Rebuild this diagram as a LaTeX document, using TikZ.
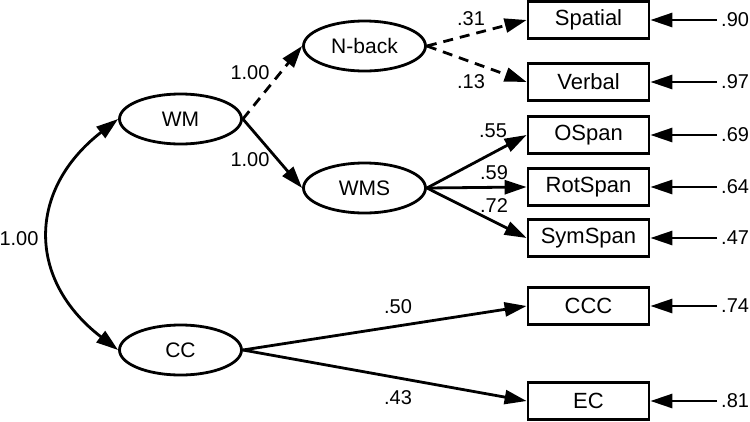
\documentclass[tikz,border=0pt]{standalone}
\usepackage{fontspec}
\setmainfont{Liberation Sans}
\usetikzlibrary{arrows.meta,shapes.geometric}
\begin{document}
\begin{tikzpicture}[x=1pt,y=-1pt,
  lat/.style={ellipse,draw,line width=2.8pt,minimum width=122pt,minimum height=50pt,inner sep=0pt,font=\fontsize{21}{25}\selectfont},
  obs/.style={rectangle,draw,line width=2.8pt,minimum width=121pt,minimum height=37pt,inner sep=0pt,font=\fontsize{22}{26}\selectfont},
  lbl/.style={inner sep=0pt,font=\fontsize{20}{24}\selectfont},
  path/.style={line width=2.8pt,-{Triangle[length=22pt,width=14pt]}},
  dpath/.style={path,dash pattern=on 10pt off 7pt},
  res/.style={line width=2.8pt,-{Triangle[length=22pt,width=14pt]}}]
\useasboundingbox (0,0) rectangle (750,421);
% latent
\node[lat] (WM) at (180.5,119) {WM};
\node[lat] (NB) at (364.5,46) {N-back};
\node[lat] (WMS) at (364.5,188) {WMS};
\node[lat] (CC) at (180.5,350) {CC};
% observed
\node[obs] (SP) at (588.5,20) {Spatial};
\node[obs] (VB) at (588.5,82) {Verbal};
\node[obs] (OS) at (588.5,135) {OSpan};
\node[obs] (RS) at (588.5,187) {RotSpan};
\node[obs] (SS) at (588.5,238) {SymSpan};
\node[obs] (CCC) at (588.5,306) {CCC};
\node[obs] (EC) at (588.5,401) {EC};
% residual start points
\foreach \n/\y in {SP/20,VB/82,OS/135,RS/187,SS/238,CCC/306,EC/401}{
  \coordinate (r\n) at (717,\y);
}
% paths
\draw[dpath] (WM.east) -- (NB.west);
\draw[path] (WM.east) -- (WMS.west);
\draw[dpath] (NB.east) -- (SP.west);
\draw[dpath] (NB.east) -- (VB.west);
\draw[path] (WMS.east) -- (OS.west);
\draw[path] (WMS.east) -- (RS.west);
\draw[path] (WMS.east) -- (SS.west);
\draw[path] (CC.east) -- (CCC.west);
\draw[path] (CC.east) -- (EC.west);
\draw[line width=2.8pt,{Triangle[length=22pt,width=14pt]}-{Triangle[length=22pt,width=14pt]}]
  (WM.west) .. controls (27,190) and (27,280) .. (CC.west);
% residual arrows
\foreach \n in {SP,VB,OS,RS,SS,CCC,EC}{
  \draw[res] (r\n) -- (\n.east);
}
% labels
\node[lbl] (l1) at (250,73) {1.00};
\node[lbl] (l2) at (250,160) {1.00};
\node[lbl] (l3) at (19,239) {1.00};
\node[lbl] (l31) at (471,19) {.31};
\node[lbl] (l13) at (471,82) {.13};
\node[lbl] (l55) at (493,131) {.55};
\node[lbl] (l59) at (494,173) {.59};
\node[lbl] (l72) at (494,206) {.72};
\node[lbl] (l50) at (398,307) {.50};
\node[lbl] (l43) at (398,398) {.43};
\foreach \n/\v/\y in {a/.90/20,b/.97/82,c/.69/135,d/.64/187,e/.47/238,f/.74/306,g/.81/401}{
  \node[lbl,anchor=west] (e\n) at (721,\y) {\v};
}
\end{tikzpicture}
\end{document}
